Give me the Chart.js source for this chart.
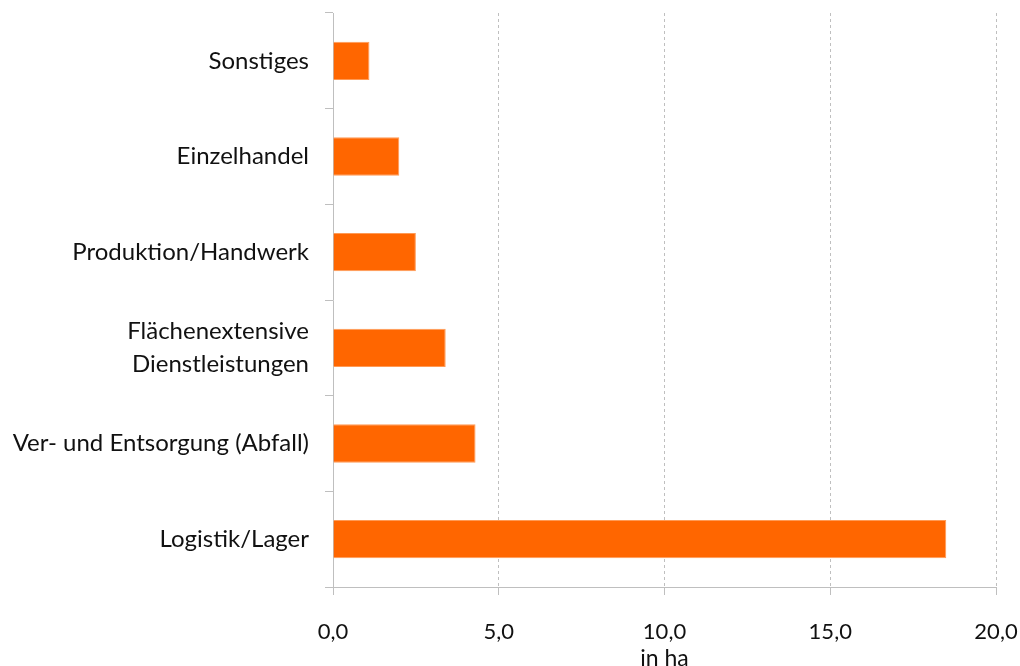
<!DOCTYPE html>
<html>
<head>
<meta charset="utf-8">
<script src="https://cdn.jsdelivr.net/npm/chart.js@4"></script>
<style>
html,body{margin:0;padding:0;background:#fff;}
#wrap{width:1020px;height:666px;position:relative;}
</style>
</head>
<body>
<div id="wrap"><canvas id="c"></canvas></div>
<script>
const categories = [
  "Sonstiges",
  "Einzelhandel",
  "Produktion/Handwerk",
  ["Flächenextensive", "Dienstleistungen"],
  "Ver- und Entsorgung (Abfall)",
  "Logistik/Lager"
];
const values = [1.1, 2.0, 2.5, 3.4, 4.3, 18.5];
const xMin = 0, xMax = 20, xStep = 5;
const xTitle = "in ha";

const FONT = "Lato, 'Open Sans', sans-serif";
new Chart(document.getElementById('c'), {
  type: 'bar',
  data: {
    labels: categories,
    datasets: [{
      data: values,
      backgroundColor: '#ff6600',
      borderColor: '#ff9a55',
      borderWidth: 1,
      barPercentage: 0.4,
      categoryPercentage: 1.0
    }]
  },
  options: {
    indexAxis: 'y',
    responsive: true,
    maintainAspectRatio: false,
    animation: false,
    layout: { padding: { top: 13, right: 24, left: 0, bottom: 0 } },
    plugins: { legend: { display: false }, tooltip: { enabled: false } },
    scales: {
      y: {
        afterFit: s => { s.width = 333; s.paddingTop = 0; s.paddingBottom = 0; },
        grid: { drawOnChartArea: false, drawTicks: true, tickLength: 8, color: '#bfbfbf', offset: true },
        border: { display: true, color: '#bfbfbf', width: 1 },
        ticks: { color: '#111', font: { family: FONT, size: 24, lineHeight: 1.4 }, padding: 16 }
      },
      x: {
        min: xMin, max: xMax,
        afterFit: s => { s.height = 79; s.paddingLeft = 0; s.paddingRight = 0; },
        grid: { color: '#bfbfbf', tickBorderDash: [], tickLength: 8, tickColor: '#bfbfbf' },
        border: { display: true, color: '#bfbfbf', width: 1, dash: [3, 3] },
        ticks: {
          stepSize: xStep, color: '#111', font: { family: FONT, size: 22 }, padding: 24,
          callback: v => v.toFixed(1).replace('.', ',')
        },
        title: { display: true, text: xTitle, color: '#111', font: { family: FONT, size: 23, lineHeight: 1 }, padding: { top: 0, bottom: -4 } }
      }
    }
  }
});
</script>
</body>
</html>
